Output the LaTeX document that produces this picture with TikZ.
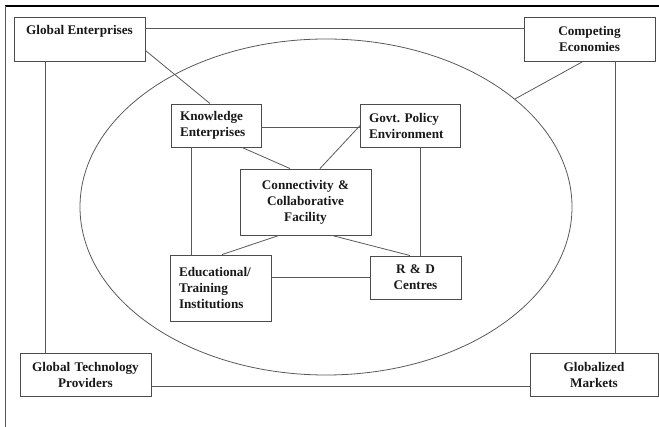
\documentclass[tikz,border=0pt]{standalone}
\usepackage{fontspec}
\setmainfont{Liberation Serif}
\begin{document}
\frenchspacing
\begin{tikzpicture}[x=1pt,y=-1pt,
  txt/.style={font=\fontsize{13.2}{16}\selectfont\bfseries, text=black!90},
  box/.style={txt, draw=black!70, line width=0.9pt, fill=white, inner xsep=9pt, inner ysep=0pt},
  cbox/.style={box, align=center},
  lbox/.style={box, align=left},
  link/.style={draw=black!65, line width=0.8pt},
  frame/.style={draw=black, line width=1.4pt}]
\useasboundingbox (0,0) rectangle (659,427);

% partial page frame
\coordinate (ftl) at (5,6);
\coordinate (ftr) at (659,6);
\coordinate (fbl) at (5,427);
\draw[frame] (ftl) -- (ftr);
\draw[link, line width=1pt] (ftl) -- (fbl);

% national innovation system
\draw[link] (326,207) ellipse [x radius=246, y radius=168];

% outer actors
\node[box, minimum width=131pt, minimum height=44pt, text height=18pt, text depth=26pt] (ge) at (79.5,39) {Global Enterprises};
\node[cbox, text width=113pt, minimum height=44pt] (ce) at (589.5,39) {Competing\\Economies};
\node[cbox, text width=113pt, minimum height=43pt] (gtp) at (85.5,374.5) {Global Technology\\Providers};
\node[cbox, text width=110pt, minimum height=43pt] (gm) at (594,374.5) {Globalized\\Markets};

% inner actors
\node[lbox, text width=72pt, minimum height=43pt] (ke) at (216,125.5) {Knowledge\\Enterprises};
\node[lbox, text width=83pt, minimum height=43pt, inner xsep=8.5pt] (gp) at (410.5,125.5) {Govt. Policy\\Environment};
\node[cbox, text width=113pt, minimum height=66pt] (cc) at (305.5,202) {Connectivity \&\\Collaborative\\Facility};
\node[lbox, text width=83pt, minimum height=66pt] (ed) at (220.5,288) {Educational/\\Training\\Institutions};
\node[cbox, text width=73pt, minimum height=43pt] (rd) at (415.5,277.5) {R \& D\\Centres};

% free end of the link that stops at the ellipse
\coordinate (ceend) at (515,99);

% outer links
\draw[link] ([yshift=11pt]ge.east) -- ([yshift=11pt]ce.west);
\draw[link] ([yshift=11pt]ge.south east) -- ([xshift=-6pt]ke.north);
\draw[link] ([xshift=-6.5pt]ce.south) -- (ceend);
\draw[link] ([xshift=25.5pt]ce.south) -- ([xshift=25.5pt]ce.south |- gm.north);
\draw[link] ([xshift=-34.5pt]ge.south) -- ([xshift=-34.5pt]ge.south |- gtp.north);
\draw[link] ([yshift=-11.5pt]gtp.east) -- ([yshift=-11.5pt]gtp.east -| gm.west);

% inner links
\draw[link] ([yshift=-1.5pt]ke.east) -- ([yshift=-1.5pt]ke.east -| gp.west);
\draw[link] ([xshift=26pt]ke.south) -- ([xshift=-15.5pt]cc.north);
\draw[link] ([xshift=14.5pt]cc.north) -- (gp.west);
\draw[link] ([xshift=-25pt]ke.south) -- ([xshift=-25pt]ke.south |- ed.north);
\draw[link] ([xshift=9.5pt]gp.south) -- ([xshift=9.5pt]gp.south |- rd.north);
\draw[link] ([xshift=-26.5pt]cc.south) -- ([xshift=1.5pt]ed.north);
\draw[link] ([xshift=26.5pt]cc.south) -- ([xshift=-5.5pt]rd.north);
\draw[link] ([yshift=11pt]ed.east) -- ([yshift=11pt]ed.east -| rd.west);
\end{tikzpicture}
\end{document}
